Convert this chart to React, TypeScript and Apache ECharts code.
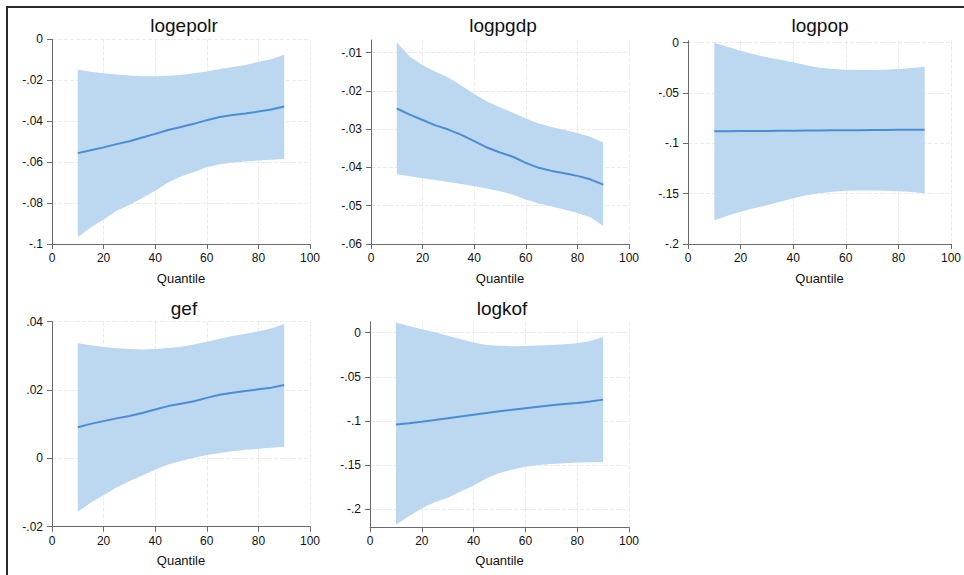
import React, { useEffect, useRef } from "react";
import * as echarts from "echarts";

// ---------- data ----------
const quantiles = [10, 15, 20, 25, 30, 35, 40, 45, 50, 55, 60, 65, 70, 75, 80, 85, 90];
const xTicks = [0, 20, 40, 60, 80, 100];

const logepolrCoef = [-0.0556, -0.0542, -0.0528, -0.0512, -0.0498, -0.048, -0.0462, -0.0443, -0.0428, -0.0413, -0.0395, -0.038, -0.037, -0.0362, -0.0353, -0.0343, -0.0328];
const logepolrLower = [-0.0966, -0.092, -0.088, -0.0838, -0.081, -0.0775, -0.074, -0.07, -0.067, -0.0648, -0.0625, -0.061, -0.0602, -0.0597, -0.0592, -0.0588, -0.0585];
const logepolrUpper = [-0.0149, -0.0158, -0.0166, -0.0172, -0.0177, -0.018, -0.018, -0.0178, -0.0174, -0.0166, -0.0157, -0.0145, -0.0135, -0.0125, -0.011, -0.0097, -0.0076];
const logepolrYTicks = [0, -0.02, -0.04, -0.06, -0.08, -0.1];

const logpgdpCoef = [-0.0246, -0.0262, -0.0276, -0.029, -0.0301, -0.0315, -0.0331, -0.0348, -0.0361, -0.0372, -0.0388, -0.0401, -0.0409, -0.0415, -0.0422, -0.0431, -0.0445];
const logpgdpLower = [-0.0418, -0.0423, -0.0428, -0.0433, -0.0438, -0.0443, -0.0449, -0.0455, -0.0462, -0.0471, -0.0484, -0.0494, -0.0502, -0.051, -0.0519, -0.053, -0.0553];
const logpgdpUpper = [-0.0073, -0.011, -0.0133, -0.015, -0.0165, -0.0186, -0.0208, -0.0228, -0.0243, -0.0257, -0.0272, -0.0285, -0.0294, -0.0302, -0.031, -0.032, -0.0335];
const logpgdpYTicks = [-0.01, -0.02, -0.03, -0.04, -0.05, -0.06];

const logpopCoef = [-0.088, -0.0879, -0.0878, -0.0877, -0.0876, -0.0875, -0.0874, -0.0873, -0.0872, -0.0871, -0.087, -0.0869, -0.0868, -0.0867, -0.0866, -0.0866, -0.0865];
const logpopLower = [-0.1765, -0.172, -0.168, -0.1645, -0.1615, -0.158, -0.1545, -0.1515, -0.1495, -0.1482, -0.1472, -0.1468, -0.1468, -0.147, -0.1475, -0.1483, -0.1495];
const logpopUpper = [0.0, -0.004, -0.008, -0.0115, -0.0145, -0.017, -0.0195, -0.0225, -0.025, -0.0262, -0.0268, -0.027, -0.027, -0.0268, -0.0262, -0.0252, -0.0238];
const logpopYTicks = [0, -0.05, -0.1, -0.15, -0.2];

const gefCoef = [0.0091, 0.0101, 0.0109, 0.0117, 0.0124, 0.0133, 0.0143, 0.0153, 0.016, 0.0167, 0.0177, 0.0186, 0.0192, 0.0197, 0.0202, 0.0207, 0.0215];
const gefLower = [-0.0156, -0.013, -0.0108, -0.0085, -0.0067, -0.005, -0.0033, -0.0018, -0.0008, 0.0002, 0.001, 0.0016, 0.0021, 0.0025, 0.0028, 0.0031, 0.0034];
const gefUpper = [0.0337, 0.0331, 0.0326, 0.0322, 0.032, 0.0319, 0.032, 0.0323, 0.0327, 0.0333, 0.0341, 0.035, 0.0358, 0.0365, 0.0372, 0.038, 0.0393];
const gefYTicks = [0.04, 0.02, 0, -0.02];

const logkofCoef = [-0.104, -0.1025, -0.1008, -0.099, -0.097, -0.095, -0.093, -0.091, -0.089, -0.0872, -0.0855, -0.0838, -0.0822, -0.0808, -0.0795, -0.078, -0.0758];
const logkofLower = [-0.2175, -0.208, -0.199, -0.192, -0.187, -0.18, -0.173, -0.165, -0.159, -0.155, -0.152, -0.15, -0.1488, -0.1478, -0.1472, -0.1468, -0.1465];
const logkofUpper = [0.0115, 0.0075, 0.004, 0.0005, -0.0035, -0.0075, -0.011, -0.0138, -0.0148, -0.0152, -0.0151, -0.0146, -0.0138, -0.013, -0.0118, -0.0095, -0.0048];
const logkofYTicks = [0, -0.05, -0.1, -0.15, -0.2];

// ---------- styling ----------
const FONT = "'Liberation Sans', Arial, Helvetica, sans-serif";
const BAND = "#bcd7f0";
const LINE = "#4a8dd5";
const AXIS = "#6a6a6a";
const GRID = "#ebebeb";
const TEXT = "#111111";

const fmt = (v: number) => {
  if (Math.abs(v) < 1e-9) return "0";
  const s = String(+v.toFixed(4));
  return s.replace(/^(-?)0\./, "$1.");
};

type Spec = {
  title: string;
  coef: number[];
  lower: number[];
  upper: number[];
  yTicks: number[];
  yMin: number;
  yMax: number;
  box: { left: number; top: number; width: number; height: number };
  grid: { left: number; top: number; width: number; height: number };
  titleY: number;
  nameGap: number;
};

const panels: Spec[] = [
  {
    title: "logepolr", coef: logepolrCoef, lower: logepolrLower, upper: logepolrUpper, yTicks: logepolrYTicks,
    yMin: -0.1, yMax: 0,
    box: { left: 0, top: 0, width: 323, height: 290 },
    grid: { left: 52, top: 39.3, width: 264, height: 206.4 },
    titleY: 25.5, nameGap: 28,
  },
  {
    title: "logpgdp", coef: logpgdpCoef, lower: logpgdpLower, upper: logpgdpUpper, yTicks: logpgdpYTicks,
    yMin: -0.06, yMax: -0.0067,
    box: { left: 323, top: 0, width: 319, height: 290 },
    grid: { left: 48, top: 40, width: 264, height: 205 },
    titleY: 25.5, nameGap: 28,
  },
  {
    title: "logpop", coef: logpopCoef, lower: logpopLower, upper: logpopUpper, yTicks: logpopYTicks,
    yMin: -0.2, yMax: 0.002,
    box: { left: 642, top: 0, width: 322, height: 290 },
    grid: { left: 46, top: 40.7, width: 264, height: 205 },
    titleY: 25.5, nameGap: 28,
  },
  {
    title: "gef", coef: gefCoef, lower: gefLower, upper: gefUpper, yTicks: gefYTicks,
    yMin: -0.02, yMax: 0.04,
    box: { left: 0, top: 290, width: 323, height: 285 },
    grid: { left: 52, top: 31.7, width: 264, height: 205 },
    titleY: 18.5, nameGap: 27,
  },
  {
    title: "logkof", coef: logkofCoef, lower: logkofLower, upper: logkofUpper, yTicks: logkofYTicks,
    yMin: -0.2205, yMax: 0.0125,
    box: { left: 323, top: 290, width: 319, height: 285 },
    grid: { left: 47, top: 31.7, width: 264, height: 205.6 },
    titleY: 18.5, nameGap: 27,
  },
];

function buildOption(p: Spec) {
  const bandData = quantiles.map((q, i) => [q, p.lower[i], p.upper[i]]);
  return {
    animation: false,
    textStyle: { fontFamily: FONT },
    grid: { ...p.grid },
    graphic: [
      {
        type: "text",
        x: p.grid.left + p.grid.width / 2,
        y: p.titleY,
        style: {
          text: p.title,
          fontSize: 19,
          fontFamily: FONT,
          fill: TEXT,
          textAlign: "center",
          textVerticalAlign: "middle",
        },
      },
    ],
    xAxis: {
      type: "value",
      min: 0,
      max: 100,
      interval: 20,
      name: "Quantile",
      nameLocation: "middle",
      nameGap: p.nameGap,
      nameTextStyle: { fontSize: 13, color: TEXT, fontFamily: FONT },
      axisLine: { show: true, onZero: false, lineStyle: { color: AXIS, width: 1 } },
      axisTick: { show: true, length: 5, customValues: xTicks, lineStyle: { color: AXIS } },
      axisLabel: { fontSize: 12, color: TEXT, margin: 8, customValues: xTicks, fontFamily: FONT },
      splitLine: { show: true, lineStyle: { color: GRID, type: "dashed", width: 1 } },
    },
    yAxis: {
      type: "value",
      min: p.yMin,
      max: p.yMax,
      axisLine: { show: true, onZero: false, lineStyle: { color: AXIS, width: 1 } },
      axisTick: { show: true, length: 5, customValues: p.yTicks, lineStyle: { color: AXIS } },
      axisLabel: { fontSize: 12, color: TEXT, margin: 9, customValues: p.yTicks, formatter: fmt, fontFamily: FONT },
      splitLine: { show: true, lineStyle: { color: GRID, type: "dashed", width: 1 } },
    },
    series: [
      {
        type: "custom",
        name: "ci",
        silent: true,
        clip: true,
        data: bandData,
        encode: { x: 0, y: [1, 2] },
        renderItem: (params: any, api: any) => {
          if (params.dataIndex !== 0) return null;
          const top = bandData.map((d) => api.coord([d[0], d[2]]));
          const bottom = bandData.map((d) => api.coord([d[0], d[1]])).reverse();
          return {
            type: "polygon",
            shape: { points: top.concat(bottom) },
            style: { fill: BAND, stroke: "none" },
          };
        },
        z: 1,
      },
      {
        type: "line",
        name: "coef",
        data: quantiles.map((q, i) => [q, p.coef[i]]),
        symbol: "none",
        smooth: false,
        lineStyle: { color: LINE, width: 2 },
        z: 3,
      },
    ],
  };
}

function Panel({ spec }: { spec: Spec }) {
  const ref = useRef<HTMLDivElement>(null);
  useEffect(() => {
    if (!ref.current) return;
    const chart = echarts.init(ref.current, null, { renderer: "svg" });
    chart.setOption(buildOption(spec) as any);
    return () => chart.dispose();
  }, [spec]);
  const b = spec.box;
  return (
    <div style={{ position: "absolute", left: b.left, top: b.top, width: b.width, height: b.height, overflow: "hidden" }}>
      <div ref={ref} style={{ width: b.width, height: b.height }} />
    </div>
  );
}

export default function App() {
  return (
    <div style={{ position: "fixed", left: 0, top: 0, width: 964, height: 575, background: "#ffffff", overflow: "hidden" }}>
      {panels.map((p) => (
        <Panel key={p.title} spec={p} />
      ))}
      <div
        style={{
          position: "absolute",
          left: 6,
          top: 6,
          width: 958,
          height: 569,
          borderTop: "2px solid #2a2a2a",
          borderLeft: "2px solid #2a2a2a",
          pointerEvents: "none",
        }}
      />
    </div>
  );
}
